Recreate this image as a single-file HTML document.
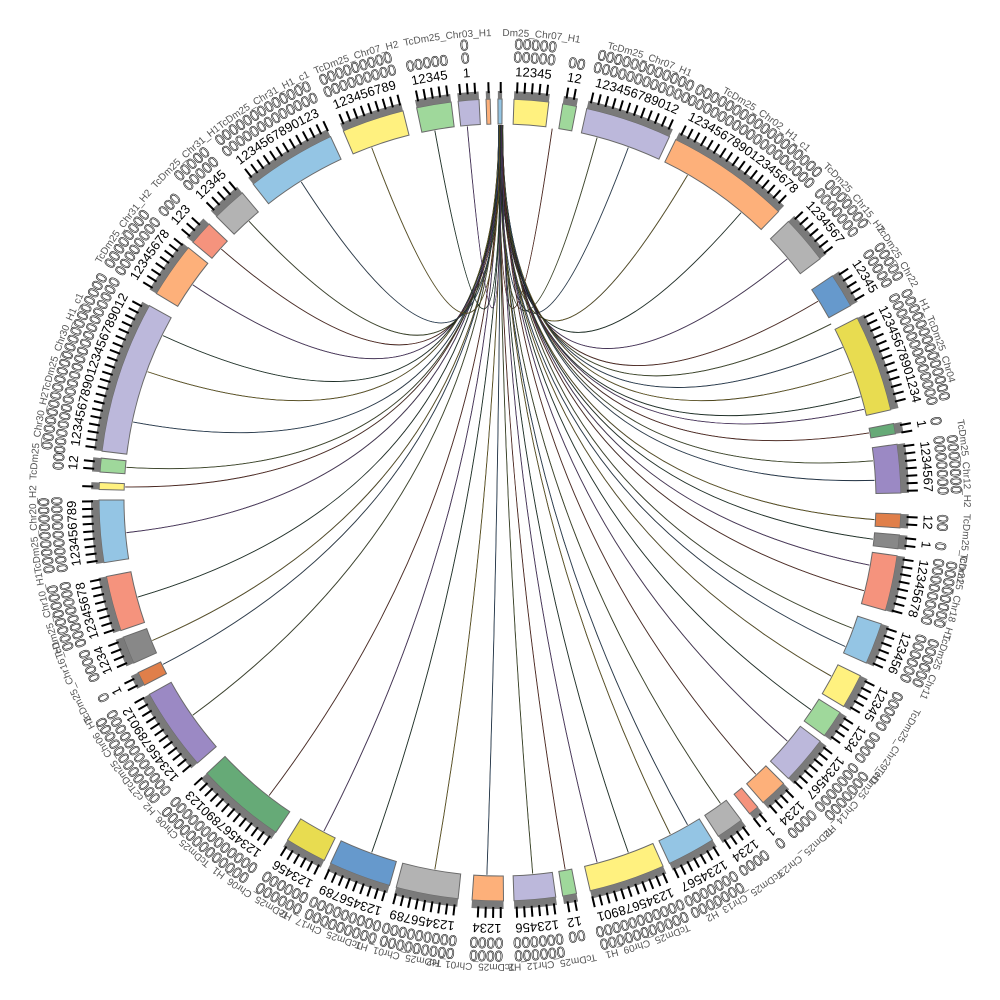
<!DOCTYPE html>
<html><head><meta charset="utf-8">
<style>
html,body{margin:0;padding:0;background:#fff;}
svg{display:block}
.d{font-family:"Liberation Sans",sans-serif;font-size:13px;fill:#000;text-anchor:middle}
.z{font-family:"Liberation Sans",sans-serif;font-size:15px;fill:none;stroke:#111;stroke-width:0.6;text-anchor:middle}
.n{font-family:"Liberation Sans",sans-serif;font-size:10px;fill:#555;text-anchor:middle}
</style></head><body>
<svg id="s" width="1000" height="1000" viewBox="0 0 1000 1000" xmlns="http://www.w3.org/2000/svg">
<defs>
<path id="c424" d="M500,76 A424,424 0 1 1 500,924 A424,424 0 1 1 500,76"/>
<path id="c436" d="M500,62 A438,438 0 1 1 500,938 A438,438 0 1 1 500,62"/>
<path id="c448" d="M500,49 A451,451 0 1 1 500,951 A451,451 0 1 1 500,49"/>
<path id="c462" d="M500,36 A464,464 0 1 1 500,964 A464,464 0 1 1 500,36"/>
</defs>
<g id="chords"></g>
<g id="segs"></g>
<g id="txt">
<text class="d"><textPath href="#c424" startOffset="1.25%">12345</textPath></text>
<text class="z"><textPath href="#c436" startOffset="1.25%">00000</textPath></text>
<text class="z"><textPath href="#c448" startOffset="1.25%">00000</textPath></text>
<text class="d"><textPath href="#c424" startOffset="2.78%">12</textPath></text>
<text class="z"><textPath href="#c436" startOffset="2.78%">00</textPath></text>
<text class="d"><textPath href="#c424" startOffset="5.21%">123456789012</textPath></text>
<text class="z"><textPath href="#c436" startOffset="5.21%">000000000000</textPath></text>
<text class="z"><textPath href="#c448" startOffset="5.21%">000000000000</textPath></text>
<text class="d"><textPath href="#c424" startOffset="9.72%">123456789012345678</textPath></text>
<text class="z"><textPath href="#c436" startOffset="9.72%">000000000000000000</textPath></text>
<text class="z"><textPath href="#c448" startOffset="9.72%">000000000000000000</textPath></text>
<text class="d"><textPath href="#c424" startOffset="13.75%">1234567</textPath></text>
<text class="z"><textPath href="#c436" startOffset="13.75%">0000000</textPath></text>
<text class="z"><textPath href="#c448" startOffset="13.75%">0000000</textPath></text>
<text class="d"><textPath href="#c424" startOffset="16.25%">12345</textPath></text>
<text class="z"><textPath href="#c436" startOffset="16.25%">00000</textPath></text>
<text class="z"><textPath href="#c448" startOffset="16.25%">00000</textPath></text>
<text class="d"><textPath href="#c424" startOffset="19.44%">12345678901234</textPath></text>
<text class="z"><textPath href="#c436" startOffset="19.44%">00000000000000</textPath></text>
<text class="z"><textPath href="#c448" startOffset="19.44%">00000000000000</textPath></text>
<text class="d"><textPath href="#c424" startOffset="22.15%">1</textPath></text>
<text class="z"><textPath href="#c436" startOffset="22.15%">0</textPath></text>
<text class="d"><textPath href="#c424" startOffset="23.75%">1234567</textPath></text>
<text class="z"><textPath href="#c436" startOffset="23.75%">0000000</textPath></text>
<text class="z"><textPath href="#c448" startOffset="23.75%">0000000</textPath></text>
<text class="d"><textPath href="#c424" startOffset="25.83%">12</textPath></text>
<text class="z"><textPath href="#c436" startOffset="25.83%">00</textPath></text>
<text class="d"><textPath href="#c424" startOffset="26.67%">1</textPath></text>
<text class="z"><textPath href="#c436" startOffset="26.67%">0</textPath></text>
<text class="d"><textPath href="#c424" startOffset="28.33%">12345678</textPath></text>
<text class="z"><textPath href="#c436" startOffset="28.33%">00000000</textPath></text>
<text class="z"><textPath href="#c448" startOffset="28.33%">00000000</textPath></text>
<text class="d"><textPath href="#c424" startOffset="30.83%">123456</textPath></text>
<text class="z"><textPath href="#c436" startOffset="30.83%">000000</textPath></text>
<text class="z"><textPath href="#c448" startOffset="30.83%">000000</textPath></text>
<text class="d"><textPath href="#c424" startOffset="32.92%">12345</textPath></text>
<text class="z"><textPath href="#c436" startOffset="32.92%">00000</textPath></text>
<text class="d"><textPath href="#c424" startOffset="34.44%">1234</textPath></text>
<text class="z"><textPath href="#c436" startOffset="34.44%">0000</textPath></text>
<text class="d"><textPath href="#c424" startOffset="36.25%">1234567</textPath></text>
<text class="z"><textPath href="#c436" startOffset="36.25%">0000000</textPath></text>
<text class="z"><textPath href="#c448" startOffset="36.25%">0000000</textPath></text>
<text class="d"><textPath href="#c424" startOffset="38.06%">1234</textPath></text>
<text class="z"><textPath href="#c436" startOffset="38.06%">0000</textPath></text>
<text class="d"><textPath href="#c424" startOffset="39.10%">1</textPath></text>
<text class="z"><textPath href="#c436" startOffset="39.10%">0</textPath></text>
<text class="d"><textPath href="#c424" startOffset="40.28%">1234</textPath></text>
<text class="z"><textPath href="#c436" startOffset="40.28%">0000</textPath></text>
<text class="d"><textPath href="#c424" startOffset="42.08%">1234567</textPath></text>
<text class="z"><textPath href="#c436" startOffset="42.08%">0000000</textPath></text>
<text class="z"><textPath href="#c448" startOffset="42.08%">0000000</textPath></text>
<text class="d"><textPath href="#c424" startOffset="44.86%">12345678901</textPath></text>
<text class="z"><textPath href="#c436" startOffset="44.86%">00000000000</textPath></text>
<text class="z"><textPath href="#c448" startOffset="44.86%">00000000000</textPath></text>
<text class="d"><textPath href="#c424" startOffset="47.22%">12</textPath></text>
<text class="z"><textPath href="#c436" startOffset="47.22%">00</textPath></text>
<text class="d"><textPath href="#c424" startOffset="48.61%">123456</textPath></text>
<text class="z"><textPath href="#c436" startOffset="48.61%">000000</textPath></text>
<text class="z"><textPath href="#c448" startOffset="48.61%">000000</textPath></text>
<text class="d"><textPath href="#c424" startOffset="50.49%">1234</textPath></text>
<text class="z"><textPath href="#c436" startOffset="50.49%">0000</textPath></text>
<text class="z"><textPath href="#c448" startOffset="50.49%">0000</textPath></text>
<text class="d"><textPath href="#c424" startOffset="52.92%">123456789</textPath></text>
<text class="z"><textPath href="#c436" startOffset="52.92%">000000000</textPath></text>
<text class="z"><textPath href="#c448" startOffset="52.92%">000000000</textPath></text>
<text class="d"><textPath href="#c424" startOffset="55.69%">123456789</textPath></text>
<text class="z"><textPath href="#c436" startOffset="55.69%">000000000</textPath></text>
<text class="z"><textPath href="#c448" startOffset="55.69%">000000000</textPath></text>
<text class="d"><textPath href="#c424" startOffset="58.06%">123456</textPath></text>
<text class="z"><textPath href="#c436" startOffset="58.06%">000000</textPath></text>
<text class="z"><textPath href="#c448" startOffset="58.06%">000000</textPath></text>
<text class="d"><textPath href="#c424" startOffset="61.25%">1234567890123</textPath></text>
<text class="z"><textPath href="#c436" startOffset="61.25%">0000000000000</textPath></text>
<text class="z"><textPath href="#c448" startOffset="61.25%">0000000000000</textPath></text>
<text class="d"><textPath href="#c424" startOffset="65.28%">123456789012</textPath></text>
<text class="z"><textPath href="#c436" startOffset="65.28%">000000000000</textPath></text>
<text class="z"><textPath href="#c448" startOffset="65.28%">000000000000</textPath></text>
<text class="d"><textPath href="#c424" startOffset="67.64%">1</textPath></text>
<text class="z"><textPath href="#c436" startOffset="67.64%">0</textPath></text>
<text class="d"><textPath href="#c424" startOffset="68.89%">1234</textPath></text>
<text class="z"><textPath href="#c436" startOffset="68.89%">0000</textPath></text>
<text class="d"><textPath href="#c424" startOffset="70.83%">12345678</textPath></text>
<text class="z"><textPath href="#c436" startOffset="70.83%">00000000</textPath></text>
<text class="z"><textPath href="#c448" startOffset="70.83%">00000000</textPath></text>
<text class="d"><textPath href="#c424" startOffset="73.75%">123456789</textPath></text>
<text class="z"><textPath href="#c436" startOffset="73.75%">000000000</textPath></text>
<text class="z"><textPath href="#c448" startOffset="73.75%">000000000</textPath></text>
<text class="d"><textPath href="#c424" startOffset="76.39%">12</textPath></text>
<text class="z"><textPath href="#c436" startOffset="76.39%">00</textPath></text>
<text class="d"><textPath href="#c424" startOffset="80.00%">1234567890123456789012</textPath></text>
<text class="z"><textPath href="#c436" startOffset="80.00%">0000000000000000000000</textPath></text>
<text class="z"><textPath href="#c448" startOffset="80.00%">0000000000000000000000</textPath></text>
<text class="d"><textPath href="#c424" startOffset="84.72%">12345678</textPath></text>
<text class="z"><textPath href="#c436" startOffset="84.72%">00000000</textPath></text>
<text class="z"><textPath href="#c448" startOffset="84.72%">00000000</textPath></text>
<text class="d"><textPath href="#c424" startOffset="86.60%">123</textPath></text>
<text class="z"><textPath href="#c436" startOffset="86.60%">000</textPath></text>
<text class="d"><textPath href="#c424" startOffset="88.19%">12345</textPath></text>
<text class="z"><textPath href="#c436" startOffset="88.19%">00000</textPath></text>
<text class="z"><textPath href="#c448" startOffset="88.19%">00000</textPath></text>
<text class="d"><textPath href="#c424" startOffset="91.25%">1234567890123</textPath></text>
<text class="z"><textPath href="#c436" startOffset="91.25%">0000000000000</textPath></text>
<text class="z"><textPath href="#c448" startOffset="91.25%">0000000000000</textPath></text>
<text class="d"><textPath href="#c424" startOffset="94.86%">123456789</textPath></text>
<text class="z"><textPath href="#c436" startOffset="94.86%">000000000</textPath></text>
<text class="z"><textPath href="#c448" startOffset="94.86%">000000000</textPath></text>
<text class="d"><textPath href="#c424" startOffset="97.36%">12345</textPath></text>
<text class="z"><textPath href="#c436" startOffset="97.36%">00000</textPath></text>
<text class="d"><textPath href="#c424" startOffset="98.75%">1</textPath></text>
<text class="z"><textPath href="#c436" startOffset="98.75%">0</textPath></text>
<text class="z"><textPath href="#c448" startOffset="98.75%">0</textPath></text>

<text class="n"><textPath href="#c462" startOffset="1.25%">TcDm25_Chr07_H1</textPath></text>
<text class="n"><textPath href="#c462" startOffset="5.21%">TcDm25_Chr07_H1</textPath></text>
<text class="n"><textPath href="#c462" startOffset="9.72%">TcDm25_Chr02_H1_c1</textPath></text>
<text class="n"><textPath href="#c462" startOffset="13.75%">TcDm25_Chr15_H2</textPath></text>
<text class="n"><textPath href="#c462" startOffset="16.25%">TcDm25_Chr22</textPath></text>
<text class="n"><textPath href="#c462" startOffset="19.44%">H1_TcDm25_Chr04</textPath></text>
<text class="n"><textPath href="#c462" startOffset="23.75%">TcDm25_Chr12_H2</textPath></text>
<text class="n"><textPath href="#c462" startOffset="26.67%">TcDm25_Chr21</textPath></text>
<text class="n"><textPath href="#c462" startOffset="28.33%">TcDm25_Chr18_H1</textPath></text>
<text class="n"><textPath href="#c462" startOffset="30.83%">TcDm25_Chr11</textPath></text>
<text class="n"><textPath href="#c462" startOffset="33.9%">TcDm25_Chr29_H1</textPath></text>
<text class="n"><textPath href="#c462" startOffset="36.25%">TcDm25_Chr14_H2</textPath></text>
<text class="n"><textPath href="#c462" startOffset="38.6%">TcDm25_Chr23</textPath></text>
<text class="n"><textPath href="#c462" startOffset="41.2%">TcDm25_Chr13_H2</textPath></text>
<text class="n"><textPath href="#c462" startOffset="44.86%">TcDm25_Chr09_H1</textPath></text>
<text class="n"><textPath href="#c462" startOffset="48.2%">TcDm25_Chr12_H2</textPath></text>
<text class="n"><textPath href="#c462" startOffset="51.0%">TcDm25_Chr01_H2</textPath></text>
<text class="n"><textPath href="#c462" startOffset="53.5%">TcDm25_Chr01_H1</textPath></text>
<text class="n"><textPath href="#c462" startOffset="56.3%">TcDm25_Chr17_H2</textPath></text>
<text class="n"><textPath href="#c462" startOffset="59.0%">TcDm25_Chr06_H1</textPath></text>
<text class="n"><textPath href="#c462" startOffset="62.5%">TcDm25_Chr06_H2_c2</textPath></text>
<text class="n"><textPath href="#c462" startOffset="65.8%">TcDm25_Chr06_H2</textPath></text>
<text class="n"><textPath href="#c462" startOffset="68.6%">TcDm25_Chr16_H1</textPath></text>
<text class="n"><textPath href="#c462" startOffset="71.0%">TcDm25_Chr10_H1</textPath></text>
<text class="n"><textPath href="#c462" startOffset="74.0%">TcDm25_Chr20_H2</textPath></text>
<text class="n"><textPath href="#c462" startOffset="77.2%">TcDm25_Chr30_H2</textPath></text>
<text class="n"><textPath href="#c462" startOffset="80.5%">TcDm25_Chr30_H1_c1</textPath></text>
<text class="n"><textPath href="#c462" startOffset="85.0%">TcDm25_Chr31_H2</textPath></text>
<text class="n"><textPath href="#c462" startOffset="88.2%">TcDm25_Chr31_H1</textPath></text>
<text class="n"><textPath href="#c462" startOffset="91.5%">TcDm25_Chr31_H1_c1</textPath></text>
<text class="n"><textPath href="#c462" startOffset="95.0%">TcDm25_Chr07_H2</textPath></text>
<text class="n"><textPath href="#c462" startOffset="98.2%">TcDm25_Chr03_H1</textPath></text>
</g>
</svg>
<script>
(function(){
var NS="http://www.w3.org/2000/svg",cx=500,cy=500;
function P(a,r){var t=a*Math.PI/180;return [cx+r*Math.sin(t),cy-r*Math.cos(t)];}
function sector(s,e,r1,r2){var a=P(s,r2),b=P(e,r2),c=P(e,r1),d=P(s,r1),l=(e-s)>180?1:0;
return "M"+a+" A"+r2+","+r2+" 0 "+l+" 1 "+b+" L"+c+" A"+r1+","+r1+" 0 "+l+" 0 "+d+"Z";}
function el(n,at,par){var x=document.createElementNS(NS,n);for(var k in at)x.setAttribute(k,at[k]);par.appendChild(x);return x;}
var segs=[[2,7,"#fff17f"],[9,11,"#9fd89b"],[12.5,25,"#bcb8db"],[26,44,"#fdb07a"],[46,53,"#b3b3b3"],[56,61,"#6699cc"],[63,77,"#e8dc50"],[79,80.5,"#66aa77"],[82,89,"#9b89c4"],[92,94,"#e07f4a"],[95,97,"#888888"],[98,106,"#f5937d"],[108,114,"#94c5e4"],[116,121,"#fff17f"],[122,126,"#9fd89b"],[127,134,"#bcb8db"],[135,139,"#fdb07a"],[140,141.5,"#f5937d"],[143,147,"#b3b3b3"],[148,155,"#94c5e4"],[156,167,"#fff17f"],[169,171,"#9fd89b"],[172,178,"#bcb8db"],[179.5,184,"#fdb07a"],[186,195,"#b3b3b3"],[196,205,"#6699cc"],[206,212,"#e8dc50"],[214,227,"#66aa77"],[229,241,"#9b89c4"],[242.5,244.5,"#e07f4a"],[246,250,"#888888"],[251,259,"#f5937d"],[261,270,"#94c5e4"],[271.5,272.5,"#fff17f"],[274,276,"#9fd89b"],[277,299,"#bcb8db"],[301,309,"#fdb07a"],[310,313.5,"#f5937d"],[315,320,"#b3b3b3"],[322,335,"#94c5e4"],[337,346,"#fff17f"],[348,353,"#9fd89b"],[354,357,"#bcb8db"],[358,358.6,"#fdb07a"],[359.7,360.3,"#94c5e4"]];
var g=document.getElementById("segs");
segs.forEach(function(s){
 el("path",{d:sector(s[0],s[1],376,401),fill:s[2],stroke:"#6a6a6a","stroke-width":1},g);
 el("path",{d:sector(s[0],s[1],401,409),fill:"#7a7a7a"},g);
 for(var a=s[0]+0.4;a<=s[1]+0.01;a+=1.05){var p=P(a,407),q=P(a,418);
  el("line",{x1:p[0],y1:p[1],x2:q[0],y2:q[1],stroke:"#000","stroke-width":2},g);}
});
var ch=document.getElementById("chords");
var ends=[8,15,20,30,40,50,58,62,66,70,74,76,79.7,84,87,93,96,100,104,110,113,118,124,130,137,144,150,153,160,165,170,175,182,190,200,208,218,235,244,248,255,265,272,275,282,290,296,305,312,318,328,340,350,355];
var cols=["#7a3b2e","#5a6a3a","#3a5a7a","#8a7a2a","#2a4a3a","#6a4a8a"];
ends.forEach(function(a,i){
 var p=P(a,375),q=P(0.1+(i%5-2)*0.15,375);
 var d="M"+p+" Q"+cx+","+(cy-10)+" "+q;
 el("path",{d:d,fill:"none",stroke:"#111","stroke-width":0.9},ch);
 el("path",{d:d,fill:"none",stroke:cols[i%6],"stroke-width":0.5},ch);
});
})();
</script>
</body></html>
